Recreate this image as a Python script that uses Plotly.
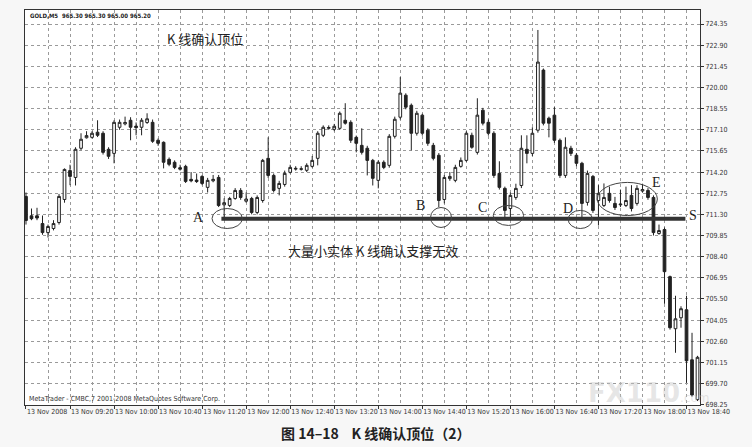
import pandas as pd
import plotly.graph_objects as go

# ---------------- data (GOLD, M5, 13 Nov 2008) ----------------
start_time = "2008-11-13 08:40"
bar_minutes = 5

opens = [712.53, 711.20, 711.20, 710.67, 710.05, 710.33, 710.74, 712.32, 714.30, 713.83,
         715.83, 716.55, 716.58, 716.93, 716.86, 715.76, 715.48, 717.27, 717.50, 717.75,
         717.35, 717.27, 717.60, 717.61, 716.38, 716.24, 715.07, 714.87, 714.50, 714.59,
         713.70, 713.65, 713.90, 713.15, 713.60, 713.83, 711.95, 711.91, 712.39, 712.94,
         712.20, 712.39, 711.43, 712.25, 715.14, 713.97, 713.08, 713.35, 714.18, 714.40,
         714.42, 714.32, 714.59, 715.14, 716.72, 717.20, 717.13, 717.20, 717.75, 717.61,
         716.58, 716.03, 715.83, 715.00, 713.63, 714.87, 714.66, 716.65, 717.96, 719.47,
         718.78, 716.86, 718.10, 717.07, 716.03, 715.35, 712.32, 713.75, 713.63, 714.59,
         715.00, 716.72, 715.55, 718.44, 717.61, 716.86, 714.11, 713.08, 711.70, 712.46,
         713.28, 715.76, 715.48, 717.07, 721.19, 717.89, 718.10, 716.38, 713.97, 715.83,
         715.35, 714.80, 712.12, 713.90, 712.25, 711.91, 712.74, 712.05, 711.95, 711.91,
         712.60, 712.05, 712.90, 712.94, 712.46, 709.99, 710.26, 707.03, 703.46, 704.21,
         704.76, 701.33, 698.60]
highs = [712.80, 711.70, 711.75, 711.22, 710.60, 710.90, 712.70, 714.45, 714.70, 715.90,
         716.86, 717.00, 717.00, 717.75, 717.00, 715.90, 717.75, 717.80, 718.00, 717.96,
         717.60, 717.90, 718.23, 717.80, 716.50, 716.30, 715.20, 715.00, 714.70, 714.70,
         714.20, 714.10, 714.00, 713.80, 714.00, 714.00, 712.40, 712.50, 713.10, 713.10,
         712.80, 712.50, 712.60, 715.10, 716.58, 714.10, 713.60, 714.30, 714.70, 714.60,
         714.60, 714.80, 715.30, 717.00, 717.40, 717.40, 717.50, 718.35, 718.92, 717.75,
         716.70, 717.20, 716.00, 715.10, 715.00, 715.00, 716.80, 718.00, 720.71, 719.60,
         718.90, 718.40, 718.20, 717.20, 716.20, 715.50, 714.00, 714.20, 714.70, 715.20,
         717.00, 716.90, 719.26, 718.60, 717.80, 717.00, 714.94, 713.20, 712.80, 713.40,
         716.72, 716.72, 717.27, 723.94, 721.30, 718.00, 718.65, 716.50, 716.58, 716.00,
         715.50, 714.90, 714.30, 714.00, 713.30, 713.42, 713.20, 712.50, 713.00, 713.20,
         713.30, 713.30, 713.40, 713.10, 712.60, 710.60, 710.40, 707.10, 705.72, 705.00,
         705.72, 703.18, 701.60]
lows = [710.60, 710.90, 710.90, 709.90, 709.71, 710.20, 710.60, 712.10, 713.30, 713.28,
        715.70, 716.50, 716.50, 716.60, 715.40, 715.10, 714.80, 717.10, 717.40, 716.38,
        716.72, 716.72, 717.50, 716.20, 716.00, 714.45, 714.60, 714.40, 714.30, 713.45,
        713.50, 713.45, 713.30, 712.80, 713.50, 711.80, 711.05, 711.80, 712.30, 712.30,
        712.10, 711.30, 711.30, 712.10, 713.80, 712.80, 712.60, 713.20, 714.10, 714.30,
        714.30, 714.20, 714.50, 714.66, 716.60, 717.10, 717.00, 717.10, 717.45, 716.20,
        715.55, 715.40, 713.97, 713.28, 713.08, 714.40, 714.50, 716.50, 717.80, 718.50,
        715.69, 716.70, 716.70, 716.00, 715.00, 711.80, 712.05, 713.60, 713.50, 714.50,
        714.90, 715.80, 715.40, 717.40, 716.70, 713.80, 713.00, 711.02, 710.88, 712.30,
        713.10, 714.80, 715.30, 716.90, 717.40, 716.58, 716.20, 713.80, 713.80, 715.30,
        714.60, 710.90, 711.90, 711.40, 710.54, 711.80, 712.10, 711.60, 711.80, 711.80,
        711.50, 711.90, 712.80, 712.30, 709.85, 709.90, 705.17, 703.40, 701.81, 703.53,
        699.75, 698.80, 698.50]
closes = [710.88, 711.00, 711.05, 710.05, 710.47, 710.67, 712.53, 714.38, 713.90, 715.76,
          716.45, 716.70, 716.86, 716.72, 715.55, 715.28, 717.61, 717.61, 717.60, 717.27,
          717.25, 717.75, 717.85, 716.31, 716.17, 714.87, 714.73, 714.52, 714.40, 713.56,
          713.60, 713.55, 713.42, 713.63, 713.70, 711.91, 712.10, 712.39, 712.94, 712.46,
          712.35, 711.43, 712.46, 715.00, 713.97, 712.94, 713.42, 714.11, 714.52, 714.45,
          714.40, 714.66, 715.00, 716.86, 717.27, 717.25, 717.34, 718.23, 717.55, 716.38,
          716.17, 715.55, 715.00, 713.77, 714.87, 714.52, 716.65, 717.82, 719.61, 718.65,
          716.86, 718.23, 716.86, 716.17, 715.14, 712.25, 713.83, 713.90, 714.52, 715.00,
          716.86, 715.90, 718.10, 717.55, 716.86, 713.97, 713.15, 711.57, 712.60, 713.08,
          715.83, 715.48, 716.86, 721.74, 717.55, 717.55, 716.38, 713.97, 715.90, 715.48,
          714.80, 712.05, 714.11, 711.57, 712.74, 712.46, 712.25, 711.77, 712.00, 712.25,
          711.70, 713.08, 713.00, 712.46, 710.05, 710.19, 707.37, 703.53, 704.14, 704.83,
          701.26, 698.92, 701.50]

price_ticks = [724.35, 722.90, 721.45, 720.00, 718.55, 717.10, 715.65, 714.20, 712.75,
               711.30, 709.85, 708.40, 706.95, 705.50, 704.05, 702.60, 701.15, 699.70, 698.25]
label_bars = list(range(0, 121, 8))      # a time label every 40 minutes
grid_bars = list(range(0, 123, 4))       # a grid line every 20 minutes

support_level = 711.0
support_bars = [35.5, 119.8]
# ellipses: (bar from, bar to, price low, price high)
ellipses = [(33.8, 39.3, 710.33, 711.70),
            (73.5, 77.3, 710.40, 711.77),
            (84.9, 90.4, 710.54, 711.91),
            (98.5, 102.9, 710.33, 711.57),
            (103.8, 114.7, 711.22, 713.49)]
# point labels: (text, bar, price)
point_labels = [("A", 31.3, 711.09), ("B", 71.6, 711.90), ("C", 82.9, 711.77),
                ("D", 98.5, 711.70), ("E", 114.5, 713.49), ("S", 121.2, 711.20)]

# ---------------- figure ----------------
t0 = pd.Timestamp(start_time)


def bar_time(k):
    return t0 + pd.Timedelta(minutes=bar_minutes * k)


times = [bar_time(i) for i in range(len(opens))]

fig = go.Figure()
fig.add_trace(go.Candlestick(
    x=times, open=opens, high=highs, low=lows, close=closes,
    increasing=dict(fillcolor="#ffffff", line=dict(color="#222222", width=1)),
    decreasing=dict(fillcolor="#222222", line=dict(color="#222222", width=1)),
    whiskerwidth=0, hoverinfo="skip", showlegend=False,
))

tick_text = []
for k in label_bars:
    t = bar_time(k)
    tick_text.append("13 Nov 2008" if k == 0 else "13 Nov " + t.strftime("%H:%M"))

grid_col = "#9a9a9a"
fig.update_xaxes(
    type="date",
    range=[bar_time(-0.18), bar_time(122.45)],
    rangeslider=dict(visible=False),
    tickmode="array", tickvals=[bar_time(k) for k in label_bars], ticktext=tick_text,
    ticklabelposition="outside right", tickangle=0, automargin=False,
    tickfont=dict(family="DejaVu Sans Condensed, Arial", size=7, color="#333333"),
    ticks="outside", ticklen=3, tickcolor="#333333",
    showgrid=True, gridcolor=grid_col, griddash="dot", gridwidth=1,
    minor=dict(tickmode="array", tickvals=[bar_time(k) for k in grid_bars],
               showgrid=True, gridcolor=grid_col, griddash="dot", gridwidth=1, ticks=""),
    showline=True, mirror=True, linecolor="#333333", linewidth=1,
    zeroline=False, fixedrange=True,
)
fig.update_yaxes(
    side="right", automargin=False,
    range=[698.23, 725.31],
    tickmode="array", tickvals=price_ticks, ticktext=["%.2f" % v for v in price_ticks],
    tickfont=dict(family="DejaVu Sans Condensed, Arial", size=7, color="#333333"),
    ticks="outside", ticklen=3, tickcolor="#333333",
    showgrid=True, gridcolor=grid_col, griddash="dot", gridwidth=1,
    showline=True, mirror=True, linecolor="#333333", linewidth=1,
    zeroline=False, fixedrange=True,
)

shapes = [dict(type="line", xref="x", yref="y",
               x0=bar_time(support_bars[0]), x1=bar_time(support_bars[1]),
               y0=support_level, y1=support_level,
               line=dict(color="#333333", width=4))]
for b0, b1, p0, p1 in ellipses:
    shapes.append(dict(type="circle", xref="x", yref="y",
                       x0=bar_time(b0), x1=bar_time(b1), y0=p0, y1=p1,
                       line=dict(color="#444444", width=1)))

annotations = []
for txt, k, p in point_labels:
    annotations.append(dict(text=txt, x=bar_time(k), y=p, xref="x", yref="y",
                            showarrow=False,
                            font=dict(family="Liberation Serif", size=14, color="#222222")))

annotations += [
    dict(text="K 线确认顶位", x=bar_time(32.5), y=723.39, xref="x", yref="y",
         showarrow=False, font=dict(family="Noto Sans CJK SC", size=13, color="#222222")),
    dict(text="大量小实体 K 线确认支撑无效", x=bar_time(63.1), y=708.82, xref="x", yref="y",
         showarrow=False, font=dict(family="Noto Sans CJK SC", size=13, color="#222222")),
    dict(text="<b>GOLD,M5  965.30 965.30 965.00 965.20</b>", x=0.004, y=0.987,
         xref="paper", yref="paper", xanchor="left", yanchor="middle", showarrow=False,
         font=dict(family="DejaVu Sans Condensed, Arial", size=6, color="#222222")),
    dict(text="MetaTrader - CMBC,7 2001-2008 MetaQuotes Software Corp.", x=0.003, y=0.015,
         xref="paper", yref="paper", xanchor="left", yanchor="middle", showarrow=False,
         font=dict(family="DejaVu Sans Condensed, Arial", size=7, color="#333333")),
    dict(text="<b>图 14–18    K 线确认顶位（2）</b>", x=0.52, y=-0.071,
         xref="paper", yref="paper", xanchor="center", yanchor="middle", showarrow=False,
         font=dict(family="Noto Sans CJK SC", size=14, color="#222222")),
    dict(text="<b>FX110</b><span style='font-size:12px'>.com</span>", x=0.925, y=0.03,
         xref="paper", yref="paper", xanchor="center", yanchor="middle", showarrow=False,
         font=dict(family="DejaVu Sans", size=26, color="rgba(200,200,200,0.45)")),
]

fig.update_layout(
    width=752, height=447,
    margin=dict(l=25, r=52, t=10, b=42, autoexpand=False),
    paper_bgcolor="#f7f7f7", plot_bgcolor="#ffffff",
    showlegend=False,
    shapes=shapes, annotations=annotations,
    hovermode=False,
)

fig.write_html(
    "out.html",
    config={"displayModeBar": False, "staticPlot": True},
    post_script="document.body.style.margin='0';document.body.style.overflow='hidden';"
                "document.body.style.background='#f7f7f7';",
)
